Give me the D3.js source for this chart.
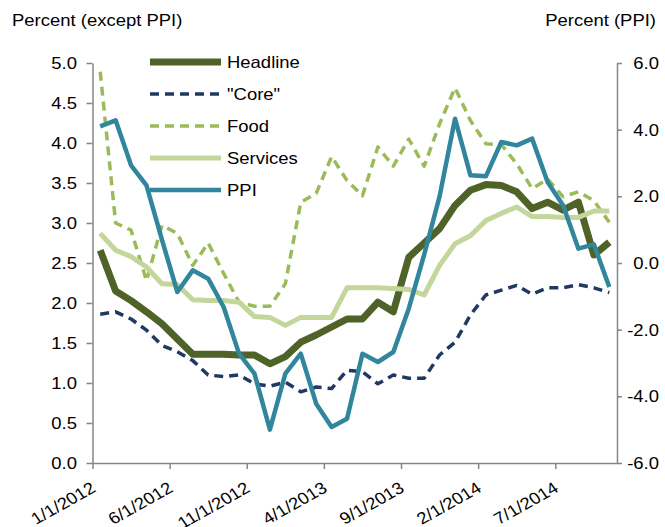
<!DOCTYPE html>
<html>
<head>
<meta charset="utf-8">
<script src="https://cdn.jsdelivr.net/npm/d3@7"></script>
<style>
  body { margin: 0; background: #fff; }
  text { font-family: "Liberation Sans", Arial, sans-serif; fill: #000; }
</style>
</head>
<body>
<svg id="chart" width="665" height="527"></svg>
<script>
// monthly observations, Jan 2012 .. Oct 2014
var months = d3.range(34).map(function (i) { return new Date(2012, i, 1); });
var headline = [2.66, 2.15, 2.03, 1.89, 1.74, 1.55, 1.36, 1.36, 1.36, 1.35, 1.35, 1.24,
                1.33, 1.51, 1.60, 1.70, 1.80, 1.80, 2.01, 1.89, 2.57, 2.75, 2.93, 3.22,
                3.41, 3.48, 3.47, 3.39, 3.18, 3.26, 3.16, 3.26, 2.60, 2.76];
var core = [1.86, 1.89, 1.80, 1.66, 1.47, 1.39, 1.28, 1.10, 1.08, 1.10, 0.99, 0.96,
            1.01, 0.89, 0.95, 0.93, 1.16, 1.14, 0.99, 1.10, 1.06, 1.06, 1.35, 1.51,
            1.85, 2.10, 2.16, 2.22, 2.11, 2.19, 2.19, 2.23, 2.19, 2.13];
var food = [4.89, 3.00, 2.91, 2.28, 2.97, 2.87, 2.47, 2.75, 2.37, 2.01, 1.96, 1.96,
            2.24, 3.26, 3.37, 3.83, 3.53, 3.34, 3.95, 3.71, 4.05, 3.71, 4.24, 4.69,
            4.28, 3.99, 3.98, 3.74, 3.43, 3.55, 3.33, 3.39, 3.28, 3.01];
var services = [2.87, 2.66, 2.58, 2.45, 2.24, 2.23, 2.04, 2.03, 2.03, 2.01, 1.83, 1.82,
                1.72, 1.82, 1.82, 1.82, 2.19, 2.19, 2.19, 2.18, 2.17, 2.10, 2.47, 2.74,
                2.84, 3.03, 3.12, 3.20, 3.08, 3.08, 3.07, 3.07, 3.15, 3.15];
var ppi = [4.10, 4.28, 2.93, 2.33, 0.70, -0.87, -0.22, -0.47, -1.32, -2.72, -3.32, -5.00,
           -3.32, -2.72, -4.22, -4.92, -4.67, -2.72, -2.97, -2.67, -1.37, 0.25, 2.00, 4.33,
           2.63, 2.60, 3.63, 3.53, 3.73, 2.43, 1.73, 0.43, 0.56, -0.72];
var leftTicks = [0, 0.5, 1, 1.5, 2, 2.5, 3, 3.5, 4, 4.5, 5];
var rightTicks = [-6, -4, -2, 0, 2, 4, 6];

var series = [
  {name: "Headline", values: headline, axis: "left", color: "#4f6228", width: 7, dash: null},
  {name: "\"Core\"", values: core, axis: "left", color: "#1f3864", width: 3.5, dash: "9,6"},
  {name: "Food", values: food, axis: "left", color: "#9bbb59", width: 3.5, dash: "9,6"},
  {name: "Services", values: services, axis: "left", color: "#c3d69b", width: 5, dash: null},
  {name: "PPI", values: ppi, axis: "right", color: "#31859c", width: 4.5, dash: null}
];

var svg = d3.select("#chart");
var plotLeft = 92.5, plotRight = 617, plotTop = 63, plotBottom = 463;
var sx = 1.12, fs = 16.5;
var axisColor = "#868686";

var x = d3.scaleBand().domain(d3.range(months.length)).range([plotLeft, plotRight]);
var yL = d3.scaleLinear().domain([0, 5]).range([plotBottom, plotTop]);
var yR = d3.scaleLinear().domain([-6, 6]).range([plotBottom, plotTop]);
var fmtDate = d3.timeFormat("%-m/%-d/%Y");

// text slightly wider than tall, like the source picture
function label(str, px, py, anchor, rot) {
  var g = svg.append("g")
    .attr("transform", "translate(" + px + "," + py + ") scale(" + sx + ",1)" + (rot ? " rotate(" + rot + ")" : ""));
  g.append("text")
    .attr("text-anchor", anchor)
    .style("font-size", fs + "px")
    .text(str);
}

// axes
var gl = svg.append("g").attr("transform", "translate(" + plotLeft + ",0)")
  .call(d3.axisLeft(yL).tickValues(leftTicks).tickSize(6).tickSizeOuter(0).tickFormat(""));
var gr = svg.append("g").attr("transform", "translate(" + plotRight + ",0)")
  .call(d3.axisRight(yR).tickValues(rightTicks).tickSize(5).tickSizeOuter(0).tickFormat(""));
var tickIdx = d3.range(0, months.length, 5);
var gx = svg.append("g").attr("transform", "translate(0," + plotBottom + ")")
  .call(d3.axisBottom(d3.scaleLinear().domain([0, months.length]).range([plotLeft, plotRight]))
    .tickValues(tickIdx).tickSize(6).tickSizeOuter(0).tickFormat(""));
[gl, gr, gx].forEach(function (g) {
  g.selectAll("path, line").attr("stroke", axisColor).attr("stroke-width", 1.5);
});

leftTicks.forEach(function (v) { label(d3.format(".1f")(v), 77, yL(v) + 6, "end"); });
rightTicks.forEach(function (v) { label(d3.format(".1f")(v).replace("\u2212", "-"), 659, yR(v) + 6, "end"); });
tickIdx.forEach(function (i) { label(fmtDate(months[i]), x(i) + 4.5, 491, "end", -32); });

label("Percent (except PPI)", 12, 26, "start");
label("Percent (PPI)", 656, 26, "end");

// lines
series.forEach(function (s) {
  var y = s.axis === "left" ? yL : yR;
  var line = d3.line()
    .x(function (d, i) { return x(i) + x.bandwidth() / 2; })
    .y(function (d) { return y(d); });
  svg.append("path")
    .datum(s.values)
    .attr("d", line)
    .attr("fill", "none")
    .attr("stroke", s.color)
    .attr("stroke-width", s.width)
    .attr("stroke-dasharray", s.dash)
    .attr("stroke-linejoin", "round");
});

// legend
series.forEach(function (s, i) {
  var ly = 62 + i * 32;
  svg.append("line")
    .attr("x1", 150).attr("x2", 221).attr("y1", ly).attr("y2", ly)
    .attr("stroke", s.color)
    .attr("stroke-width", s.width)
    .attr("stroke-dasharray", s.dash);
  label(s.name, 227, ly + 6, "start");
});
</script>
</body>
</html>
